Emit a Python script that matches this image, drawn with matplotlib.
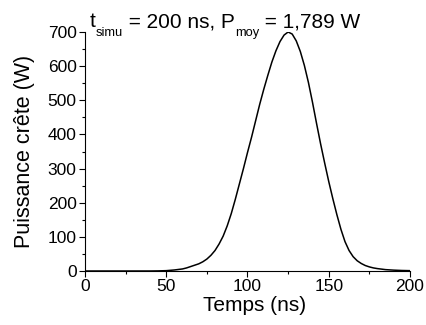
import numpy as np
import matplotlib.pyplot as plt
from matplotlib.ticker import MultipleLocator

plt.rcParams['font.family'] = 'Liberation Sans'

# pulse: time (ns) and peak power (W)
t_ns = [0, 10, 20, 30, 40, 45, 50, 52.5, 55, 57.5, 60, 62.5, 65, 67.5, 70, 72.5,
        75, 77.5, 80, 82.5, 85, 87.5, 90, 92.5, 95, 97.5, 100, 102.5, 105, 107.5,
        110, 112.5, 115, 117.5, 120, 122.5, 125, 127.5, 130, 132.5, 135, 137.5,
        140, 142.5, 145, 147.5, 150, 152.5, 155, 157.5, 160, 162.5, 165, 167.5,
        170, 172.5, 175, 177.5, 180, 185, 190, 195, 200]
p_w = [0, 0, 0, 0, 0, 0.3, 1, 2, 3, 4.5, 6, 9, 13, 17, 21, 27,
       35, 46, 60, 79, 102, 132, 168, 210, 255, 300, 347, 392, 440, 488,
       532, 573, 612, 645, 672, 691, 700, 694, 674, 643, 602, 552,
       494, 432, 372, 316, 262, 212, 165, 122, 86, 60, 42, 30,
       22, 16, 12, 9, 7, 4, 2.5, 1.5, 1]

t_simu = '200'
p_moy = '1,789'

W, H = 427, 325
fig = plt.figure(figsize=(W / 100, H / 100), dpi=100)
ax = fig.add_axes([85 / W, 1 - 271 / H, 325 / W, 239 / H])
ax.plot(t_ns, p_w, color='black', lw=1.1)

ax.set_xlim(0, 200)
ax.set_ylim(0, 700)
ax.xaxis.set_major_locator(MultipleLocator(50))
ax.xaxis.set_minor_locator(MultipleLocator(25))
ax.yaxis.set_major_locator(MultipleLocator(100))
ax.yaxis.set_minor_locator(MultipleLocator(50))
ax.tick_params(which='major', direction='out', length=4, width=0.8, labelsize=12.5, pad=2)
ax.tick_params(which='minor', direction='out', length=2.2, width=0.8)
ax.spines['top'].set_visible(False)
ax.spines['right'].set_visible(False)

ax.set_xlabel('Temps (ns)', fontsize=15)
ax.xaxis.set_label_coords(0.523, -0.105)
ax.set_ylabel('Puissance crête (W)', fontsize=15.5)
ax.yaxis.set_label_coords(-0.155, 0.5)

# title with lowered subscripts, built piece by piece
pieces = [('t', 15, 0), ('simu', 9.3, 9),
          (' = ' + t_simu + ' ns, P', 15, 0), ('moy', 9.3, 9),
          (' = ' + p_moy + ' W', 15, 0)]
renderer = fig.canvas.get_renderer()
x = 90
base = H - 27
for s, size, drop in pieces:
    txt = fig.text(x / W, (base - drop) / H, s, fontsize=size, va='baseline', ha='left')
    x = txt.get_window_extent(renderer).x1

fig.savefig('out.png', dpi=100)
